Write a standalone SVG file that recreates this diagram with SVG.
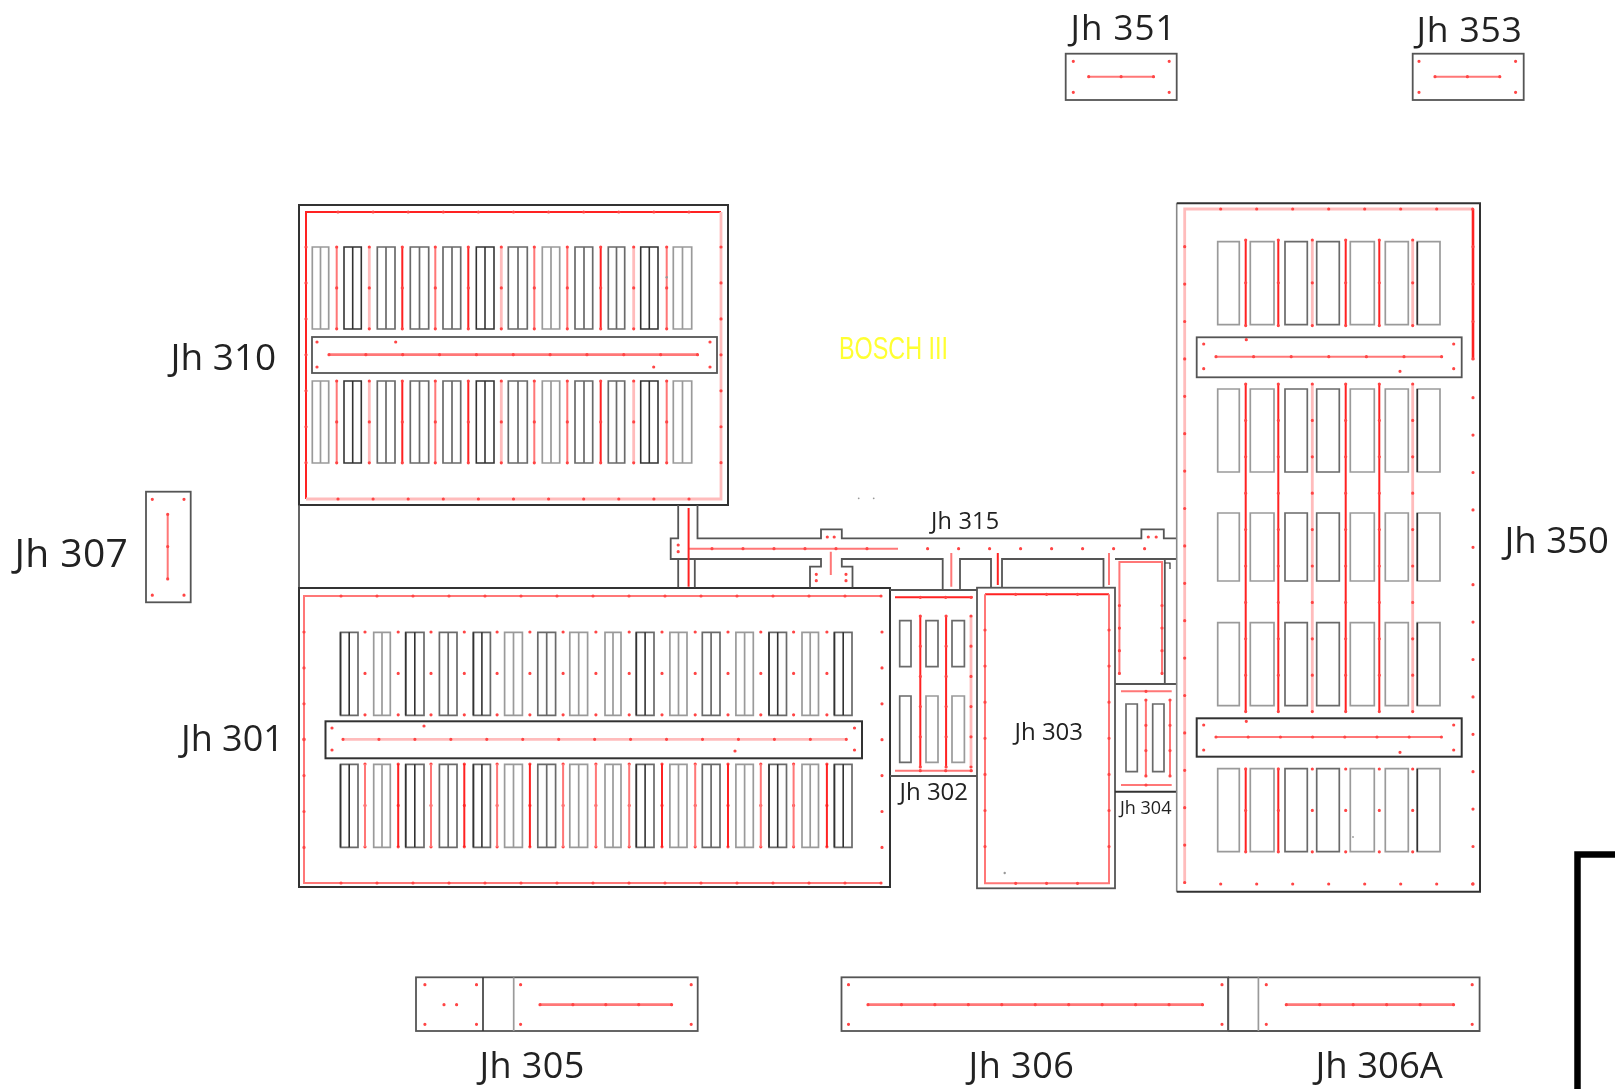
<svg xmlns="http://www.w3.org/2000/svg" xmlns:xlink="http://www.w3.org/1999/xlink" width="1615" height="1089" viewBox="0 0 1615 1089">
<style>
text{font-family:"Open Sans","Noto Sans",sans-serif;fill:#222}
path,rect{fill:none}
.w{stroke:#555;stroke-width:1.8}
.wd{stroke:#333;stroke-width:2}
.wl{stroke:#888;stroke-width:1.6}
.k{stroke:#333;stroke-width:1.6}
.m{stroke:#6a6a6a;stroke-width:1.7}
.g{stroke:#9a9a9a;stroke-width:1.7}
.rs{stroke:#f22;stroke-width:2}
.rm{stroke:#ff7777;stroke-width:2}
.rl{stroke:#ffbcbc;stroke-width:2.8}
.d{stroke:#f44;stroke-width:3.2;stroke-linecap:round}
.ds{stroke:#999;stroke-width:2.4;stroke-linecap:round}
</style>
<defs>
<filter id="soft" x="0" y="0" width="100%" height="100%"><feGaussianBlur stdDeviation="0.6"/></filter>
<g id="rows310">
<path class="g" d="M312.3 247h16.4v82h-16.4zM320.5 247v82M542.3 247h17.4v82h-17.4zM551 247v82M673.3 247h18.4v82h-18.4zM682.5 247v82"/>
<path class="m" d="M377.3 247h17.7v82h-17.7zM386 247v82M410.3 247h18.4v82h-18.4zM419.5 247v82M443 247h17.7v82h-17.7zM452 247v82M508.3 247h19v82h-19zM518 247v82M575 247h17.7v82h-17.7zM584 247v82M608.3 247h16.4v82h-16.4zM616.5 247v82"/>
<path class="k" d="M344 247h17.3v82h-17.3zM352.7 247v82M476.3 247h17.7v82h-17.7zM485 247v82M640.7 247h17.3v82h-17.3zM649.3 247v82"/>
<path class="rl" d="M369.3 247v82M501.3 247v82M633.7 247v82"/>
<path class="rm" d="M336.7 247v82M435.3 247v82M534.3 247v82M567.3 247v82M666.7 247v82"/>
<path class="rs" d="M402.3 247v82M468.3 247v82M600.7 247v82"/>
<path class="d" stroke-dasharray="0 40.9" d="M336.7 247v82M369.3 247v82M402.3 247v82M435.3 247v82M468.3 247v82M501.3 247v82M534.3 247v82M567.3 247v82M600.7 247v82M633.7 247v82M666.7 247v82"/>
</g>
<g id="racks301">
<path class="g" d="M373.7 0h16.6v83h-16.6zM382 0v83M504.6 0h17.8v83h-17.8zM513.5 0v83M569.8 0h17.8v83h-17.8zM578.7 0v83M605 0h16v83h-16zM613 0v83M669.9 0h17.1v83h-17.1zM678.5 0v83M735.9 0h17.4v83h-17.4zM744.6 0v83M802 0h16.5v83h-16.5zM810.2 0v83"/>
<path class="m" d="M439.4 0h17.6v83h-17.6zM448.2 0v83M537.8 0h17.8v83h-17.8zM546.7 0v83M702.3 0h17.7v83h-17.7zM711.1 0v83M340.5 0h17.5v83h-17.5zM405.7 0h18.3v83h-18.3zM473.4 0h17v83h-17zM636.3 0h17.7v83h-17.7zM769 0h17.5v83h-17.5zM834.4 0h17.6v83h-17.6z"/>
<path class="k" d="M340.5 0v83M349.2 0v83M405.7 0v83M414.8 0v83M473.4 0v83M481.9 0v83M636.3 0v83M645.1 0v83M769 0v83M777.7 0v83M834.4 0v83M843.2 0v83"/>
</g>
<g id="row350">
<path class="g" d="M1217.7 0h21.6v83h-21.6zM1250.3 0h23.7v83h-23.7zM1350.3 0h24v83h-24zM1385.3 0h23v83h-23zM1417.3 0h22.7v83h-22.7z"/>
<path class="m" d="M1285 0h22.3v83h-22.3zM1316.7 0h22.6v83h-22.6z"/>
<path class="k" d="M1417.3 0v83"/>
</g>
</defs>
<g filter="url(#soft)">
<rect x="0" y="0" width="1615" height="1089" style="fill:#fff"/>
<g id="jh351">
<rect class="w" x="1065.7" y="53.7" width="111" height="46.3"/>
<path class="rm" d="M1088.7 76.7h65"/>
<path class="d" stroke-dasharray="0 32.4" d="M1088.7 76.7h65"/>
<path class="d" stroke-dasharray="0 95.9" d="M1073.3 61.3h96M1073.3 92.3h96"/>
<text x="1070.5" y="40" font-size="35" letter-spacing="1">Jh 351</text>
</g>
<g id="jh353">
<rect class="w" x="1412.7" y="53.7" width="111" height="46.3"/>
<path class="rm" d="M1435 76.7h65"/>
<path class="d" stroke-dasharray="0 32.4" d="M1435 76.7h65"/>
<path class="d" stroke-dasharray="0 96.6" d="M1419 61.3h96.7M1419 92.3h96.7"/>
<text x="1416.5" y="41.7" font-size="35.5" letter-spacing=".8">Jh 353</text>
</g>
<g id="jh307">
<rect class="w" x="146" y="491.7" width="44.7" height="110.6"/>
<path class="rm" d="M167.7 514.3V579"/>
<path class="d" stroke-dasharray="0 32.3" d="M167.7 514.3V579"/>
<path class="d" stroke-dasharray="0 95.9" d="M152.3 499.3v96M184 499.3v96"/>
<text x="14.5" y="566.5" font-size="39" letter-spacing=".4">Jh 307</text>
</g>

<g id="jh310">
<rect class="wd" x="299" y="205" width="429" height="300"/>
<path class="rs" d="M306 499V212H721"/>
<path class="rl" d="M306 499H721V212"/>
<path class="d" stroke-dasharray="0 35.1" d="M338 212H690M338 499H690"/>
<path class="d" stroke-dasharray="0 35.95" d="M306 247V463M721 247V463"/>
<use xlink:href="#rows310" href="#rows310"/>
<use xlink:href="#rows310" href="#rows310" y="134"/>
<rect class="w" x="312" y="337" width="405" height="36"/>
<path class="rm" style="stroke-width:2.8" d="M329 354.7H698"/>
<path class="d" stroke-dasharray="0 36.85" d="M329 354.7H698"/>
<path class="d" stroke-dasharray="0 1000" d="M317 342h.01M395.7 342h.01M710 342h.01M317 367h.01M653.7 367h.01M710 367h.01"/>
<path class="ds" stroke-dasharray="0 1000" d="M666.7 277.3h.01"/>
<text x="170.5" y="369.5" font-size="37">Jh 310</text>
</g>

<g id="jh301">
<path class="w" d="M299 505V588"/>
<rect class="wd" x="299" y="588" width="591" height="299"/>
<path class="rm" d="M882 596H304V883H882"/>
<path class="d" stroke-dasharray="0 36" d="M341 596H882M341 883H882"/>
<path class="d" stroke-dasharray="0 35.9" d="M304 632V848M882 632V848"/>
<use xlink:href="#racks301" href="#racks301" y="632.3"/>
<use xlink:href="#racks301" href="#racks301" y="764.3"/>
<path class="d" stroke-dasharray="0 41.4" d="M365 632v83M398.2 632v83M431 632v83M464.3 632v83M497.1 632v83M529.9 632v83M563.1 632v83M595.9 632v83M629.2 632v83M662 632v83M695.2 632v83M728 632v83M760.8 632v83M793.6 632v83M826.9 632v83M365 764v83M398.2 764v83M431 764v83M464.3 764v83M497.1 764v83M529.9 764v83M563.1 764v83M595.9 764v83M629.2 764v83M662 764v83M695.2 764v83M728 764v83M760.8 764v83M793.6 764v83M826.9 764v83"/>
<path class="rs" d="M398.2 764v83M464.3 764v83M529.9 764v83M662 764v83M728 764v83M826.9 764v83"/>
<path class="rm" d="M365 764v83M431 764v83M497.1 764v83M563.1 764v83M595.9 764v83M629.2 764v83M695.2 764v83M760.8 764v83M793.6 764v83"/>
<rect class="wd" x="325.5" y="721.3" width="536.5" height="37"/>
<path class="rl" d="M343 739.3H847"/>
<path class="d" stroke-dasharray="0 35.95" d="M343 739.3H847"/>
<path class="d" stroke-dasharray="0 1000" d="M332 728h.01M424 726h.01M854.5 728h.01M332 750h.01M735 751h.01M854.5 750h.01M304 739h.01"/>
<text x="181" y="751" font-size="36">Jh 301</text>
</g>

<g id="jh315">
<path class="w" d="M678.2 505V538.3H670.7V559H678.2V587.3M694.8 559V587.3M697.5 505V538.3H821V529.3H841.8V538.3H1141.4V529.3H1163.8V538.3H1176.9M670.7 559H821V566.7H810V587.3M852.5 587.3V566.7H841.8V559H942.7V590M960 590V559H991V587.3M1002 587.3V559H1103.5V587.3"/>
<path class="rm" d="M688 548.7H898"/>
<path class="rs" d="M688.6 508V586.7"/>
<path class="rm" d="M830.8 551.7V575M951.3 553V586.7M1109 553V585"/>
<path class="rs" d="M997.8 553V585"/>
<path class="d" stroke-dasharray="0 31" d="M712 548.7H898M927.6 548.7H1173"/>
<path class="d" stroke-dasharray="0 1000" d="M678.2 545h.01M678.2 551.7h.01M827.3 537h.01M834.2 537h.01M1148.3 537h.01M1156.2 537h.01M816.3 574.3h.01M816.3 580.7h.01M846 574.3h.01M846 580.7h.01"/>
<path class="ds" style="stroke-width:1.8" stroke-dasharray="0 15" d="M858.7 498.3h15.1"/>
<text x="931" y="529.3" font-size="23.5" letter-spacing=".2">Jh 315</text>
</g>

<g id="jh302">
<path class="w" d="M890 590H977M890 776H977"/>
<path class="rs" d="M895 597.3H972.7M920.3 616V767.3M946.1 616V767.3"/>
<path class="rm" d="M895 770.7H972.7"/>
<path class="rl" d="M971 616V767.3"/>
<path class="m" d="M899.7 620.7h11.3v46h-11.3zM926 620.7h12v46h-12zM952 620.7h12.4v46h-12.4z"/>
<path class="m" d="M899.7 696h11.3v66.3h-11.3z"/>
<path class="g" d="M926 696h12v66.3h-12zM952 696h12.4v66.3h-12.4z"/>
<path class="d" stroke-dasharray="0 25.4" d="M920.3 597.3h51M920.3 770.7h51"/>
<path class="d" stroke-dasharray="0 30.2" d="M971 616V767.3M920.3 616V767.3M946.1 616V767.3"/>
<text x="899.5" y="800" font-size="24">Jh 302</text>
</g>

<g id="jh303">
<rect class="w" x="977" y="587.7" width="138" height="300.6"/>
<path class="rs" d="M985 594.3H1109"/>
<path class="rm" d="M1109 594.3V883.3H985V594.3"/>
<path class="d" stroke-dasharray="0 30.9" d="M1015.7 594.3h62M1015.7 883.3h62"/>
<path class="d" stroke-dasharray="0 36.1" d="M985 630V847M1109 630V847"/>
<path class="ds" stroke-dasharray="0 1000" d="M1004.7 873h.01"/>
<text x="1014.5" y="740" font-size="24">Jh 303</text>
</g>

<g id="jh304">
<path class="w" d="M1115 559H1177M1164.8 559V684M1115 684H1177"/>
<path class="wd" d="M1115 791.7H1177"/>
<path class="wd" style="stroke-width:1.2" d="M1165 563h5v6"/>
<path class="rm" d="M1119.4 675V562H1162V675"/>
<path class="d" stroke-dasharray="0 22.6" d="M1119.4 605.5V675M1162 605.5V675"/>
<path class="rm" d="M1121 691.3H1171.7M1121 785H1171.7M1145.9 700V776M1170 700V776"/>
<path class="d" stroke-dasharray="0 25.3" d="M1145.9 700V776M1170 700V776M1146 691.3h.01M1146 785h.01"/>
<path class="m" d="M1126 704h11.3v67.7H1126zM1152.7 704H1164v67.7h-11.3z"/>
<text x="1120" y="814" font-size="18">Jh 304</text>
</g>

<g id="jh350">
<path class="wl" d="M1176.7 203.3V891.7"/>
<path class="wd" d="M1176.7 891.7H1480V203.3H1176.7"/>
<path class="rl" d="M1184.7 884V209H1473"/>
<path class="rs" style="stroke-width:2.6" d="M1473 209V359.7"/>
<path class="d" stroke-dasharray="0 36" d="M1220.7 209H1473M1220.7 884H1473"/>
<path class="d" stroke-dasharray="0 37.4" d="M1184.7 246.7V884M1473 246.7V359M1473 397.7V884"/>
<use xlink:href="#row350" href="#row350" y="241.7"/>
<use xlink:href="#row350" href="#row350" y="389"/>
<path class="g" d="M1217.7 513h21.6v68h-21.6zM1250.3 513h23.7v68h-23.7zM1350.3 513h24v68h-24zM1385.3 513h23v68h-23zM1417.3 513h22.7v68h-22.7z"/>
<path class="m" d="M1285 513h22.3v68h-22.3zM1316.7 513h22.6v68h-22.6z"/>
<path class="k" d="M1417.3 513v68"/>
<use xlink:href="#row350" href="#row350" y="622.7"/>
<use xlink:href="#row350" href="#row350" y="768.7"/>
<path class="rs" d="M1245.7 240V325.7M1278.3 240V325.7M1345.7 240V325.7M1379.3 240V325.7M1245.7 384V711.7M1278.3 384V711.7M1345.7 384V711.7M1379.3 384V711.7M1245.7 767.7V852M1278.3 767.7V852"/>
<path class="rl" d="M1312.3 240V325.7M1412.7 240V325.7M1312.3 384V711.7M1412.7 384V711.7"/>
<path class="d" stroke-dasharray="0 42.8" d="M1245.7 240V325.7M1278.3 240V325.7M1312.3 240V325.7M1345.7 240V325.7M1379.3 240V325.7M1412.7 240V325.7"/>
<path class="d" stroke-dasharray="0 36.4" d="M1245.7 384V712M1278.3 384V712M1312.3 384V712M1345.7 384V712M1379.3 384V712M1412.7 384V712"/>
<path class="d" stroke-dasharray="0 41.4" d="M1245.7 769V852M1278.3 769V852M1312.3 769V852M1345.7 769V852M1379.3 769V852M1412.7 769V852"/>
<rect class="w" x="1196.7" y="337.3" width="265" height="40"/>
<path class="rm" d="M1216 356.7H1441.7"/>
<path class="d" stroke-dasharray="0 37.6" d="M1216 356.7H1441.7"/>
<path class="d" stroke-dasharray="0 1000" d="M1203.7 344h.01M1246.3 339.7h.01M1453.7 344h.01M1203.7 368.7h.01M1400 371.3h.01M1453.7 368.7h.01"/>
<rect class="wd" x="1196.7" y="718.3" width="265" height="38.4"/>
<path class="rm" d="M1216 737H1441.7"/>
<path class="d" stroke-dasharray="0 32.2" d="M1216 737H1441.7"/>
<path class="d" stroke-dasharray="0 1000" d="M1203.7 725h.01M1246.3 721.3h.01M1453.7 725h.01M1203.7 750h.01M1400 752.3h.01M1453.7 750h.01"/>
<path class="ds" style="stroke-width:1.8" stroke-dasharray="0 1000" d="M1353 837h.01"/>
<text x="1504.5" y="552.5" font-size="36.5">Jh 350</text>
</g>

<g id="jh305">
<rect class="w" x="416" y="977.3" width="281.7" height="53.7"/>
<path class="k" d="M483 977.3V1031"/>
<path class="g" d="M513.7 977.3V1031"/>
<path class="rm" style="stroke-width:2.8" d="M540 1004.7H671.7"/>
<path class="d" stroke-dasharray="0 32.9" d="M540 1004.7H671.7"/>
<path class="d" stroke-dasharray="0 1000" d="M424.9 984.7h.01M476.5 984.7h.01M424.9 1024.3h.01M476.5 1024.3h.01M444 1004.7h.01M456.6 1004.7h.01M520.6 984.7h.01M691.2 984.7h.01M520.6 1024.3h.01M691.2 1024.3h.01"/>
<text x="479.5" y="1078" font-size="36" letter-spacing=".4">Jh 305</text>
</g>
<g id="jh306">
<rect class="w" x="841.5" y="977.3" width="386.7" height="53.7"/>
<path class="rm" style="stroke-width:2.8" d="M868 1004.7H1203"/>
<path class="d" stroke-dasharray="0 33.45" d="M868 1004.7H1203"/>
<path class="d" stroke-dasharray="0 1000" d="M848.5 984.7h.01M1222 984.7h.01M848.5 1024.3h.01M1222 1024.3h.01"/>
<text x="968.5" y="1078" font-size="36" letter-spacing=".5">Jh 306</text>
</g>
<g id="jh306a">
<path class="w" d="M1228.2 977.3V1031M1228.2 977.3H1479.6V1031H1228.2"/>
<path class="g" d="M1258.4 977.3V1031"/>
<path class="rm" style="stroke-width:2.8" d="M1286.3 1004.7H1453.7"/>
<path class="d" stroke-dasharray="0 33.45" d="M1286.3 1004.7H1453.7"/>
<path class="d" stroke-dasharray="0 1000" d="M1266.3 984.7h.01M1472.2 984.7h.01M1266.3 1024.3h.01M1472.2 1024.3h.01"/>
<text x="1315.5" y="1078" font-size="36.5">Jh 306A</text>
</g>

<text id="bosch" x="839" y="359" font-size="31" textLength="109" lengthAdjust="spacingAndGlyphs" style="font-family:'Liberation Sans',sans-serif;fill:#ffff33">BOSCH III</text>
<path id="corner" d="M1577.5 1089V854.5H1615" stroke="#000" stroke-width="6.5"/>
</g>
</svg>
